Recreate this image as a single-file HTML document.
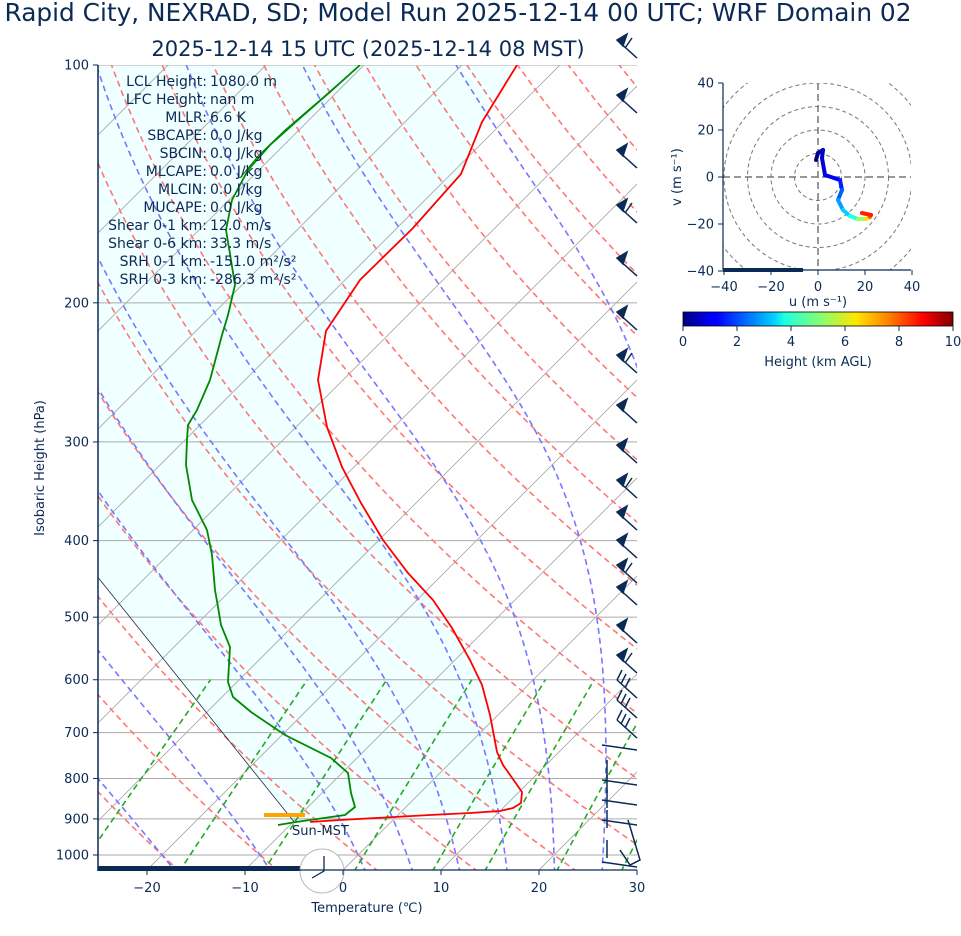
<!DOCTYPE html>
<html><head><meta charset="utf-8"><style>
body{margin:0;background:#fff;}
svg{display:block;font-family:"DejaVu Sans","Liberation Sans",sans-serif;}
</style></head><body>
<svg id="s" width="961" height="936" xmlns="http://www.w3.org/2000/svg">
<defs>
<clipPath id="cm"><rect x="98" y="65" width="539" height="805"/></clipPath>
<clipPath id="ch"><rect x="723" y="83" width="188" height="187"/></clipPath>
<linearGradient id="jet" x1="0" x2="1" y1="0" y2="0">
<stop offset="0" stop-color="#00007f"/><stop offset="0.11" stop-color="#0000ff"/><stop offset="0.125" stop-color="#0000ff"/>
<stop offset="0.34" stop-color="#00d4ff"/><stop offset="0.375" stop-color="#1fffe0"/><stop offset="0.5" stop-color="#7dff7a"/>
<stop offset="0.64" stop-color="#ffe600"/><stop offset="0.75" stop-color="#ff8c00"/><stop offset="0.89" stop-color="#ff0000"/><stop offset="1" stop-color="#7f0000"/>
</linearGradient>
</defs>
<g id="main" clip-path="url(#cm)"></g>
<g id="over"></g>
</svg>
<script>
const NS="http://www.w3.org/2000/svg";
const main=document.getElementById('main'),over=document.getElementById('over'),S=document.getElementById('s');
function el(p,t,a,txt){const e=document.createElementNS(NS,t);for(const k in a)e.setAttribute(k,a[k]);if(txt!==undefined)e.textContent=txt;p.appendChild(e);return e;}
const Y=p=>65+790*Math.log10(p/100);
const X=(T,p)=>343+9.8*T+(870-Y(p));
function pl(g,pts,a){a.points=pts.map(q=>q[0].toFixed(1)+','+q[1].toFixed(1)).join(' ');a.fill=a.fill||'none';return el(g,'polyline',a);}
const red=[[517,65],[482,122],[461,174],[413,228],[360,280],[326,331],[318,380],[327,427],[342,467],[361,503],[383,540],[408,573],[433,600],[452,628],[470,660],[482,685],[490,715],[497,752],[503,765],[515,782],[522,792],[521,803],[513,808],[500,811],[470,813],[430,815],[340,820],[310,822]];
el(main,'polygon',{points:[[98,578],[98,65]].concat(red).concat([[295,823]]).map(q=>q.join(',')).join(' '),fill:'#f0ffff'});
for(let p=100;p<=1000;p+=100)el(main,'line',{x1:98,x2:637,y1:Y(p),y2:Y(p),stroke:'#aaa','stroke-width':1});
for(let T=-120;T<=50;T+=10){const x0=343+9.8*T;el(main,'line',{x1:x0,y1:870,x2:x0+805,y2:65,stroke:'#aaa','stroke-width':0.9});}
for(let t=-40;t<=200;t+=10){const th=t+273.15;let pts=[];for(let p=1050;p>=100;p-=10){pts.push([X(th*Math.pow(p/1000,0.2857)-273.15,p),Y(p)]);}pl(main,pts,{stroke:'#f77','stroke-width':1.6,'stroke-dasharray':'6,4'});}
function es(T){return 6.112*Math.exp(17.67*T/(T+243.5));}
function dTdp(T,p){const Tk=T+273.15,e=es(T),rs=0.622*e/(p-e),Lv=2.501e6,Rd=287.04,cp=1005.7,eps=0.622;
return (Rd*Tk+Lv*rs)/(cp+Lv*Lv*rs*eps/(Rd*Tk*Tk))/p;}
function moist(t0){let up=[],T=t0,p=1000;const dp=5;while(p>=100){up.push([T,p]);T-=dTdp(T,p)*dp;p-=dp;}
let dn=[],T2=t0,p2=1000;while(p2<=1050){T2+=dTdp(T2,p2)*dp;p2+=dp;dn.push([T2,p2]);}
return dn.reverse().concat(up);}
[-40,-30,-20,-10,0,5,10,15,20,25,30,35,40].forEach(t=>{pl(main,moist(t).map(q=>[X(q[0],q[1]),Y(q[1])]),{stroke:'#77f','stroke-width':1.6,'stroke-dasharray':'6,4'});});
[0.0004,0.001,0.002,0.004,0.007,0.01,0.016,0.024,0.032].forEach(w=>{let pts=[];for(let p=1050;p>=600;p-=10){const e=w*p/(0.622+w);const l=Math.log(e/6.112);const Td=243.5*l/(17.67-l);pts.push([X(Td,p),Y(p)]);}pl(main,pts,{stroke:'#2a2','stroke-width':1.6,'stroke-dasharray':'6,4'});});
el(main,'line',{x1:60,y1:530,x2:295,y2:823,stroke:'#1a2a40','stroke-width':0.8});
pl(main,red,{stroke:'#f00','stroke-width':1.8});
const grn=[[360,65],[330,92],[298,120],[270,145],[248,170],[232,200],[226,230],[231,260],[235,285],[228,315],[222,335],[210,380],[197,410],[188,425],[187,440],[186,465],[192,500],[207,530],[212,555],[215,590],[218,607],[221,625],[230,647],[228,682],[233,697],[251,712],[285,735],[331,758],[348,773],[351,793],[355,807],[345,815],[296,822],[278,825]];
pl(main,grn,{stroke:'#080','stroke-width':1.8});
pl(main,[[360,65],[320,100],[285,130],[258,156],[240,178]],{stroke:'#080','stroke-width':1});
el(over,'line',{x1:264,x2:305,y1:815,y2:815,stroke:'#ffa500','stroke-width':4});
el(over,'rect',{x:98,y:866,width:203,height:5,fill:'#0b2a55'});
el(over,'text',{x:292,y:835,'font-size':13,fill:'#0b2a55'},'Sun-MST');
el(over,'circle',{cx:322,cy:871,r:22,fill:'#fff',stroke:'#bbb','stroke-width':1});
pl(over,[[324,856],[324,871],[312,878]],{stroke:'#0b2a55','stroke-width':1.3});
el(over,'line',{x1:98,y1:65,x2:98,y2:871,stroke:'#0b2a55','stroke-width':1.5});
el(over,'line',{x1:98,y1:870,x2:637,y2:870,stroke:'#0b2a55','stroke-width':1.2});
const C='#0b2a55';
for(let p=100;p<=1000;p+=100){const y=Y(p);el(over,'line',{x1:93,x2:98,y1:y,y2:y,stroke:C});el(over,'text',{x:89,y:y+4.5,'font-size':13,'text-anchor':'end',fill:C},p);}
for(let T=-20;T<=30;T+=10){const x=343+9.8*T;el(over,'line',{x1:x,x2:x,y1:870,y2:875,stroke:C});el(over,'text',{x:x,y:892,'font-size':13,'text-anchor':'middle',fill:C},T<0?'\u2212'+(-T):T);}
el(over,'text',{x:367,y:912,'font-size':13,'text-anchor':'middle',fill:C},'Temperature (\u2103)');
el(over,'text',{x:44,y:468,'font-size':13,'text-anchor':'middle',fill:C,transform:'rotate(-90 44 468)'},'Isobaric Height (hPa)');
el(over,'text',{x:458,y:21,'font-size':24.8,'text-anchor':'middle',fill:C},'Rapid City, NEXRAD, SD; Model Run 2025-12-14 00 UTC; WRF Domain 02');
el(over,'text',{x:368,y:56,'font-size':21,'text-anchor':'middle',fill:C,'xml:space':'preserve'},'2025-12-14 15 UTC  (2025-12-14 08 MST)');
const st=[['LCL Height:','1080.0 m'],['LFC Height:','nan m'],['MLLR:','6.6 K'],['SBCAPE:','0.0 J/kg'],['SBCIN:','0.0 J/kg'],['MLCAPE:','0.0 J/kg'],['MLCIN:','0.0 J/kg'],['MUCAPE:','0.0 J/kg'],['Shear 0-1 km:','12.0 m/s'],['Shear 0-6 km:','33.3 m/s'],['SRH 0-1 km:','-151.0 m\u00b2/s\u00b2'],['SRH 0-3 km:','-286.3 m\u00b2/s\u00b2']];
st.forEach((r,i)=>{const y=86+18*i;el(over,'text',{x:207,y:y,'font-size':14,'text-anchor':'end',fill:C},r[0]);el(over,'text',{x:210,y:y,'font-size':14,fill:C},r[1]);});
const bys=[40,95,150,205,258,312,355,405,445,480,512,540,565,587,625,655,680,700,720];
bys.forEach((y,i)=>{const g=el(over,'g',{stroke:C,'stroke-width':1.5,fill:C});
el(g,'line',{x1:637,y1:y+18,x2:617,y2:y});
if(i<16){el(g,'polygon',{points:`617,${y} 627,${y-6} 623,${y+6}`});if(i%3==0){el(g,'line',{x1:625,y1:y+8,x2:632,y2:y-2});}}
else{for(let k=0;k<3;k++)el(g,'line',{x1:617+k*4,y1:y+k*4,x2:622+k*4,y2:y-10+k*4});}});
[[760,745],[775,780],[790,800],[810,820],[840,862]].forEach(q=>{const g=el(over,'g',{stroke:C,'stroke-width':1.5,fill:'none'});el(g,'line',{x1:607,y1:q[0],x2:607,y2:q[0]+18});el(g,'line',{x1:602,y1:q[1],x2:637,y2:q[1]+5});});
el(over,'polyline',{points:'628,820 640,860 630,865 620,850',stroke:C,fill:'none','stroke-width':1.5});
const H=el(S,'g',{});const hc=el(H,'g',{'clip-path':'url(#ch)'});
const cx=818,cy=177,k=2.35;
[10,20,30,40,50,60].forEach(r=>el(hc,'circle',{cx:cx,cy:cy,r:r*k,fill:'none',stroke:'#777','stroke-dasharray':'4,3','stroke-width':1}));
el(hc,'line',{x1:723,x2:911,y1:cy,y2:cy,stroke:'#777','stroke-dasharray':'7,4','stroke-width':1.5});
el(hc,'line',{y1:83,y2:270,x1:cx,x2:cx,stroke:'#777','stroke-dasharray':'7,4','stroke-width':1.5});
const hp=[[816,160,'#00007f'],[818,153,'#00007f'],[823,150,'#00009f'],[822,158,'#0000c0'],[825,175,'#0000d0'],[840,180,'#0000ff'],[842,190,'#0020ff'],[838,200,'#0060ff'],[843,210,'#00a0ff'],[850,216,'#00d0ff'],[858,219,'#20ffe0'],[866,219,'#a0ff60'],[870,217,'#ffe000'],[871,215,'#ff6000'],[862,213,'#ff2000']];
for(let i=1;i<hp.length;i++)el(hc,'line',{x1:hp[i-1][0],y1:hp[i-1][1],x2:hp[i][0],y2:hp[i][1],stroke:hp[i][2],'stroke-width':4,'stroke-linecap':'round'});
el(H,'rect',{x:723,y:268,width:80,height:4,fill:C});
el(H,'line',{x1:723,y1:83,x2:723,y2:270,stroke:C,'stroke-width':1.2});
el(H,'line',{x1:723,y1:270,x2:911,y2:270,stroke:C,'stroke-width':1.2});
[-40,-20,0,20,40].forEach(v=>{const x=cx+v*k;el(H,'line',{x1:x,x2:x,y1:270,y2:275,stroke:C});el(H,'text',{x:x,y:291,'font-size':13,'text-anchor':'middle',fill:C},v<0?'\u2212'+(-v):v);
const y=cy-v*k;el(H,'line',{x1:718,x2:723,y1:y,y2:y,stroke:C});el(H,'text',{x:714,y:y+4.5,'font-size':13,'text-anchor':'end',fill:C},v<0?'\u2212'+(-v):v);});
el(H,'text',{x:818,y:306,'font-size':13,'text-anchor':'middle',fill:C},'u (m s\u207b\u00b9)');
el(H,'text',{x:681,y:177,'font-size':13,'text-anchor':'middle',fill:C,transform:'rotate(-90 681 177)'},'v (m s\u207b\u00b9)');
el(H,'rect',{x:683,y:312,width:270,height:14,fill:'url(#jet)',stroke:'#000','stroke-width':0.8});
for(let v=0;v<=10;v+=2){const x=683+27*v;el(H,'line',{x1:x,x2:x,y1:326,y2:331,stroke:C});el(H,'text',{x:x,y:346,'font-size':13,'text-anchor':'middle',fill:C},v);}
el(H,'text',{x:818,y:366,'font-size':13,'text-anchor':'middle',fill:C},'Height (km AGL)');
</script>
</body></html>
